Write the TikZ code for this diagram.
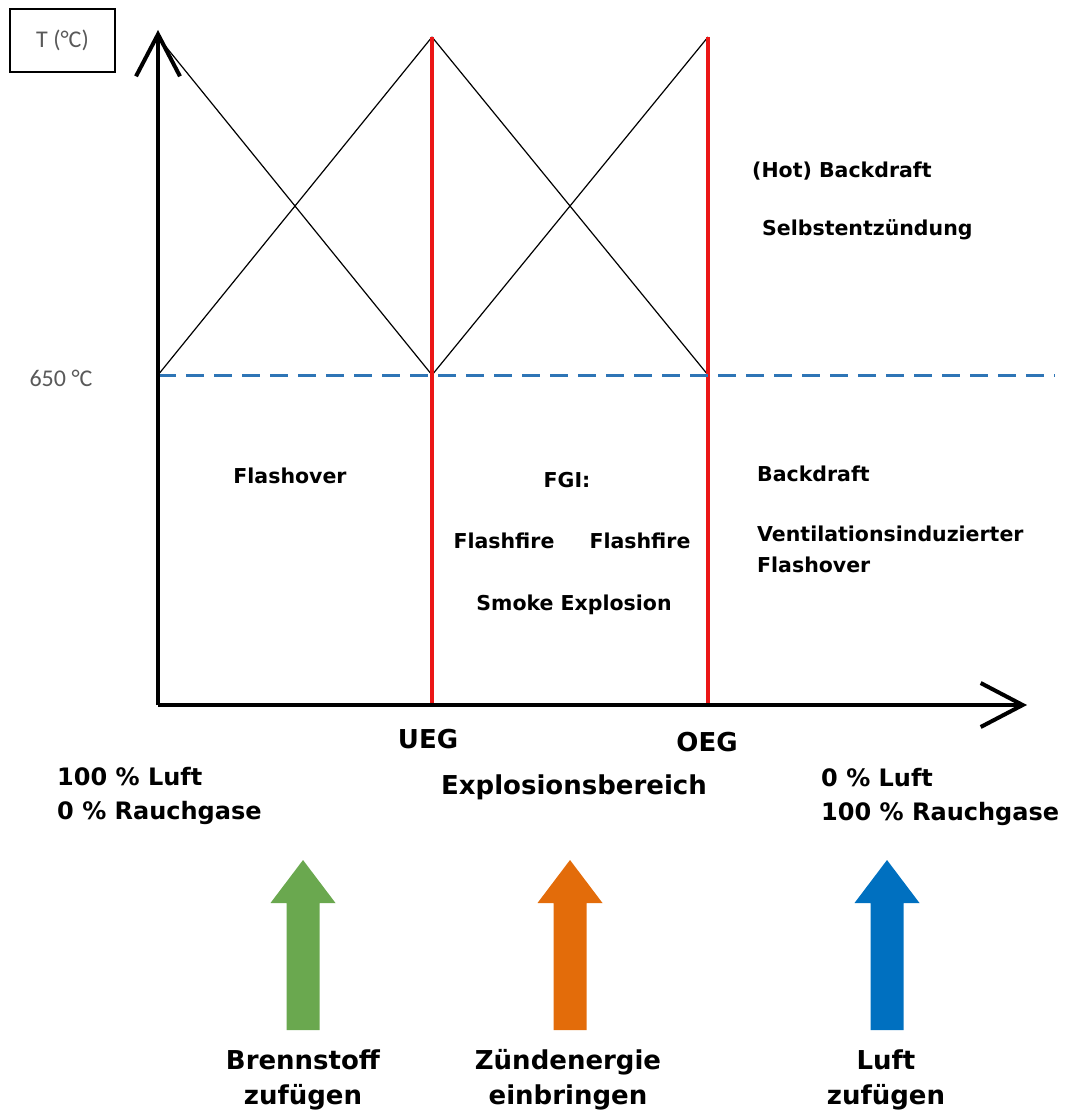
\documentclass[tikz,border=0pt]{standalone}
\usepackage{fontspec}
\setmainfont{DejaVu Sans}
\newfontfamily\calibfont{Carlito}
\usetikzlibrary{arrows.meta}
\definecolor{dashblue}{RGB}{46,117,182}
\definecolor{limitred}{RGB}{235,22,22}
\definecolor{fuelgreen}{RGB}{106,168,79}
\definecolor{sparkorange}{RGB}{227,108,10}
\definecolor{airblue}{RGB}{0,112,192}
\definecolor{labelgray}{RGB}{89,89,89}
\tikzset{
  axis/.style={line width=4pt,-{Straight Barb[length=42pt,width=44pt]}},
  cross/.style={line width=1.2pt},
  limit/.style={limitred,line width=4pt},
  level/.style={dashblue,line width=3pt,dash pattern=on 18pt off 10pt},
  graylabel/.style={text=labelgray,font=\calibfont\fontsize{24}{28}\selectfont},
  zone/.style={font=\bfseries\fontsize{20.5}{31}\selectfont,inner sep=0pt},
  marker/.style={font=\bfseries\fontsize{26}{31}\selectfont,inner sep=0pt},
  mix/.style={font=\bfseries\fontsize{24}{34}\selectfont,inner sep=0pt,anchor=west,align=left},
  action/.style={font=\bfseries\fontsize{26}{35}\selectfont,inner sep=0pt,align=center}
}
\begin{document}
\begin{tikzpicture}[x=1pt,y=-1pt]
  \useasboundingbox (0,0) rectangle (1070,1113);
  \coordinate (O) at (158,705);
  \coordinate (ytip) at (158,30);
  \coordinate (xtip) at (1027,705);
  \coordinate (Ltop) at (158,37);
  \coordinate (L650) at (158,375);
  \coordinate (Utop) at (432,37);
  \coordinate (U650) at (432,375);
  \coordinate (Ubot) at (432,705);
  \coordinate (Otop) at (708,37);
  \coordinate (O650) at (708,375);
  \coordinate (Obot) at (708,705);
  \coordinate (dashend) at (1055,375);
  % crossing lines
  \draw[cross] (Ltop) -- (U650);
  \draw[cross] (L650) -- (Utop);
  \draw[cross] (U650) -- (Otop);
  \draw[cross] (Utop) -- (O650);
  % limits and 650 level
  \draw[limit] (Utop) -- (Ubot);
  \draw[limit] (Otop) -- (Obot);
  \draw[level] (L650) -- (dashend);
  % axes
  \draw[axis] (O) -- (ytip);
  \draw[axis] (O) -- (xtip);
  \node[graylabel,draw=black,line width=1.2pt,minimum width=105pt,minimum height=63pt] (tbox) at (62.5,40.5) {T (°C)};
  \node[graylabel] (t650) at (61,378) {650 °C};
  % zones
  \node[zone,anchor=west] (hot) at (752,171) {(Hot) Backdraft};
  \node[zone,anchor=west] (self) at (762,230) {Selbstentzündung};
  \node[zone] (flashover) at (290,476) {Flashover};
  \node[zone] (fgi) at (567,480) {FGI:};
  \node[zone] (ffa) at (504,541) {Flashfire};
  \node[zone] (ffb) at (640,541) {Flashfire};
  \node[zone] (smoke) at (574,605) {Smoke Explosion};
  \node[zone,anchor=west] (back) at (757,474) {Backdraft};
  \node[zone,anchor=west,align=left] (vent) at (757,549) {Ventilationsinduzierter\\Flashover};
  % markers below axis
  \node[marker] (ueg) at (428,739) {UEG};
  \node[marker] (oeg) at (707,742) {OEG};
  \node[marker] (range) at (574,787) {Explosionsbereich};
  \node[mix] (left) at (57,796) {100 \% Luft\\0 \% Rauchgase};
  \node[mix] (right) at (821,797) {0 \% Luft\\100 \% Rauchgase};
  % block arrows
  \foreach \c/\x in {fuelgreen/303,sparkorange/570,airblue/887}
    \fill[\c] (\x-16.5,1030) -- (\x+16.5,1030) -- (\x+16.5,903) -- (\x+32.5,903)
      -- (\x,860) -- (\x-32.5,903) -- (\x-16.5,903) -- cycle;
  \node[action] (fuel) at (303,1080) {Brennstoff\\zufügen};
  \node[action] (spark) at (568,1080) {Zündenergie\\einbringen};
  \node[action] (air) at (886,1080) {Luft\\zufügen};
\end{tikzpicture}
\end{document}
